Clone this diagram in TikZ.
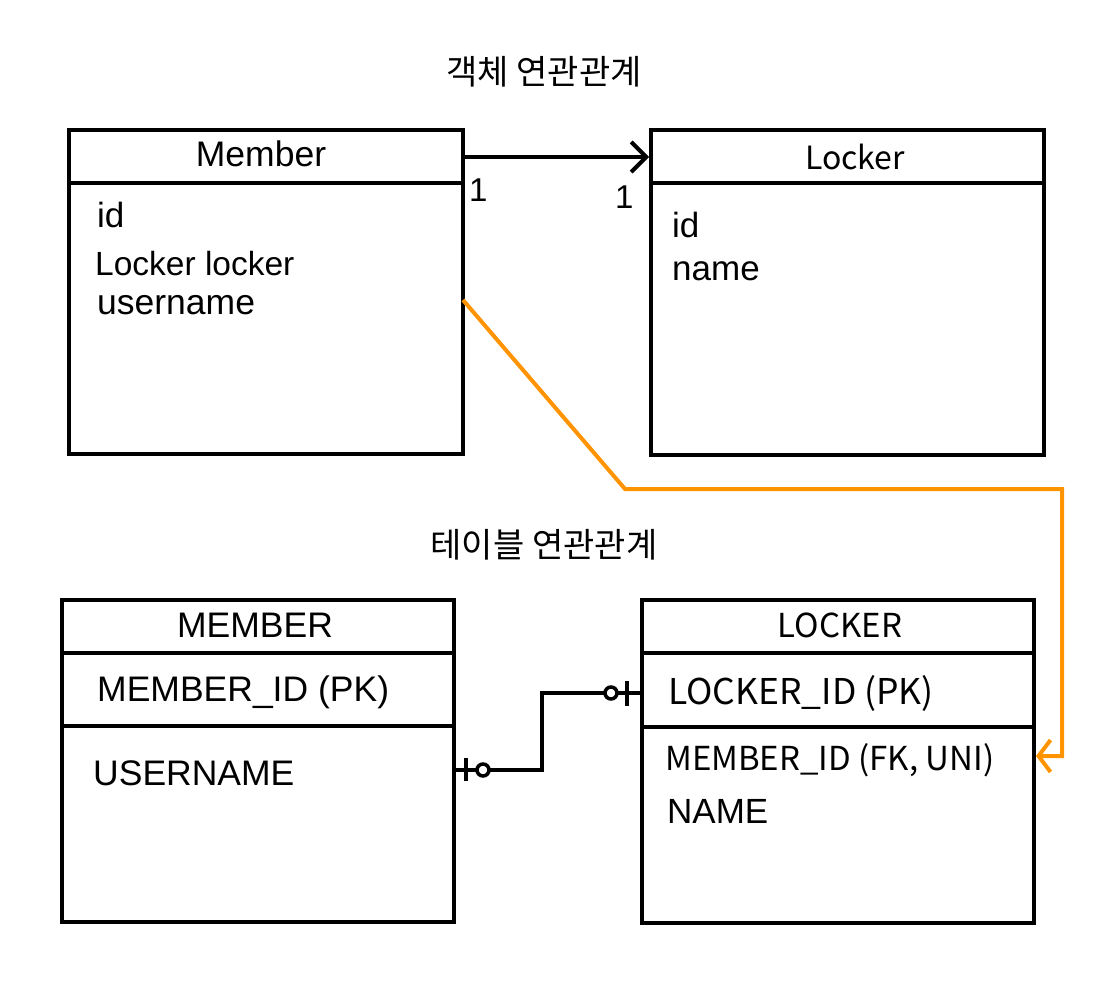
\documentclass[tikz,border=0pt]{standalone}
\usepackage{fontspec}
\setmainfont{Liberation Sans}
\newfontfamily\kr{Noto Sans CJK KR}
\usetikzlibrary{arrows.meta}
\definecolor{orng}{RGB}{255,148,0}
\tikzset{
  box/.style={draw, line width=4pt, inner sep=0pt, anchor=north west},
  lbl/.style={inner sep=0pt, anchor=base west},
  hdr/.style={inner sep=0pt},
  ring/.style={draw, fill=white, circle, line width=3.5pt, inner sep=0pt, minimum size=12pt},
}
\begin{document}
\begin{tikzpicture}[x=1pt,y=-1pt]
\useasboundingbox (0,0) rectangle (1108,984);
% boxes
\node[box, minimum width=394pt, minimum height=324pt] (mem) at (67,128) {};
\node[box, minimum width=393pt, minimum height=325pt] (lock) at (649,128) {};
\node[box, minimum width=392pt, minimum height=322pt] (MEM) at (60,598) {};
\node[box, minimum width=392pt, minimum height=323pt] (LOCK) at (640,598) {};
% dividers
\draw[line width=4pt] (67,183) -- (461,183);
\draw[line width=4pt] (649,183) -- (1042,183);
\draw[line width=4pt] (60,653) -- (452,653);
\draw[line width=4pt] (60,726) -- (452,726);
\draw[line width=4pt] (640,653) -- (1032,653);
\draw[line width=4pt] (640,727) -- (1032,727);
% titles
\node[hdr, font=\kr\fontsize{34}{36}\selectfont] (t1) at (544,72) {객체 연관관계};
\node[hdr, font=\kr\fontsize{34}{36}\selectfont] (t2) at (544,545) {테이블 연관관계};
% headers
\node[hdr, font=\fontsize{35.5}{36}\selectfont] (h1) at (261,154) {Member};
\node[hdr, font=\kr\fontsize{32}{34}\selectfont] (h2) at (855,157) {Locker};
\node[hdr, font=\fontsize{35.5}{36}\selectfont] (h3) at (255,625) {MEMBER};
\node[hdr, font=\kr\fontsize{33}{34}\selectfont] (h4) at (840,625) {LOCKER};
% fields
\node[lbl, font=\fontsize{35}{36}\selectfont] (f1) at (97,228) {id};
\node[lbl, font=\fontsize{33.5}{36}\selectfont] (f2) at (95,276) {Locker locker};
\node[lbl, font=\fontsize{35.5}{36}\selectfont] (f3) at (97,314) {username};
\node[lbl, font=\fontsize{35}{36}\selectfont] (f4) at (672,238) {id};
\node[lbl, font=\fontsize{35}{36}\selectfont] (f5) at (672,281) {name};
\node[lbl, font=\fontsize{35.5}{36}\selectfont] (f6) at (97,701) {MEMBER\_ID (PK)};
\node[lbl, font=\fontsize{35.5}{36}\selectfont] (f7) at (93,785) {USERNAME};
\node[lbl, font=\kr\fontsize{35.5}{36}\selectfont] (f8) at (668,704) {LOCKER\_ID (PK)};
\node[lbl, font=\kr\fontsize{33}{36}\selectfont] (f9) at (665,770) {MEMBER\_ID (FK, UNI)};
\node[lbl, font=\fontsize{35}{36}\selectfont] (f10) at (667,823) {NAME};
% multiplicities
\node[lbl, font=\fontsize{33}{34}\selectfont] (m1) at (469,202) {1};
\node[lbl, font=\fontsize{33}{34}\selectfont] (m2) at (615,209) {1};
% object association arrow
\coordinate (a1) at (mem.east |- 0,157);
\coordinate (a2) at (lock.west |- 0,157);
\draw[line width=4pt, -{Straight Barb[length=15pt,width=30pt,line width=4pt]}] (a1) -- (a2);
% orange mapping arrow
\coordinate (o1) at (463,300);
\coordinate (o2) at (625,489);
\coordinate (o3) at (1062,489);
\coordinate (o4) at (1062,756);
\coordinate (o5) at (LOCK.east |- 0,756);
\draw[orng, line width=4pt, line join=miter, -{Straight Barb[length=12pt,width=32pt,line width=4pt]}] (o1) -- (o2) -- (o3) -- (o4) -- (o5);
% relation connector
\coordinate (r1) at (MEM.east |- 0,770);
\coordinate (r2) at (LOCK.west |- 0,693);
\draw[line width=4pt] (r1) -- (542,770) |- (r2);
\draw[line width=3.5pt] (466,758) -- (466,781);
\draw[line width=3.5pt] (627,681) -- (627,706);
\node[ring] (c1) at (483,770) {};
\node[ring] (c2) at (611,693) {};
\end{tikzpicture}
\end{document}
